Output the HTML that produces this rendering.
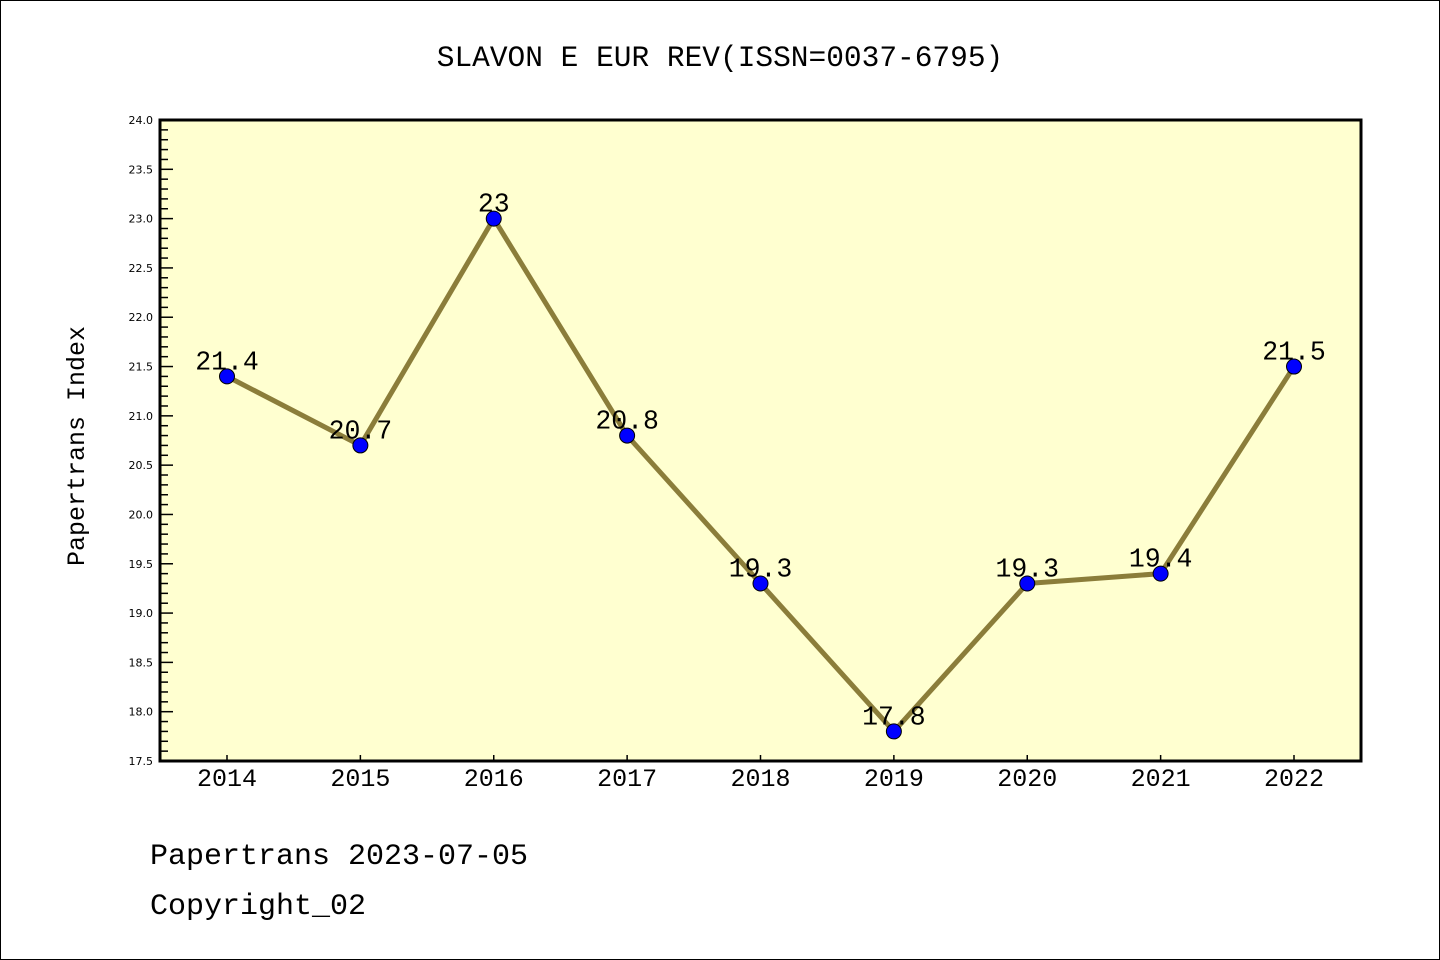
<!DOCTYPE html>
<html><head><meta charset="utf-8"><style>
body{margin:0;background:#fff;}
svg{display:block;font-family:"Liberation Mono","WenQuanYi Zen Hei",monospace;}
</style></head><body>
<svg id="chart" width="1440" height="960" viewBox="0 0 1440 960">
<rect x="0.5" y="0.5" width="1439" height="959" fill="#fff" stroke="#000"/>
<text x="720" y="66" font-size="29.5" text-anchor="middle">SLAVON E EUR REV(ISSN=0037-6795)</text>
<rect x="160" y="120" width="1201" height="641" fill="#ffffd0"/>
<g id="yticks"></g>
<g id="xticks"></g>
<g id="series"></g>
<rect x="160" y="120" width="1201" height="641" fill="none" stroke="#000" stroke-width="3"/>
<text x="84" y="446" font-size="25" text-anchor="middle" transform="rotate(-90 84 446)">Papertrans Index</text>
<text x="150" y="864" font-size="30">Papertrans 2023-07-05</text>
<text x="150" y="914" font-size="30">Copyright_02</text>
</svg>
<script>
const years=["2014","2015","2016","2017","2018","2019","2020","2021","2022"];
const values=[21.4,20.7,23,20.8,19.3,17.8,19.3,19.4,21.5];
const valueLabels=["21.4","20.7","23","20.8","19.3","17.8","19.3","19.4","21.5"];
const yTickLabels=["17.5","18.0","18.5","19.0","19.5","20.0","20.5","21.0","21.5","22.0","22.5","23.0","23.5","24.0"];
const yMin=17.5,yMax=24.0;
const NS="http://www.w3.org/2000/svg";
const X=i=>227+i*(1294-227)/(years.length-1);
const Y=v=>761-(v-yMin)/(yMax-yMin)*641;
function mk(t,a,p){const e=document.createElementNS(NS,t);for(const k in a)e.setAttribute(k,a[k]);p.appendChild(e);return e;}
const yg=document.getElementById('yticks');
for(let k=0;k<=65;k++){const v=yMin+k*0.1;const maj=k%5===0;
 const l=mk('line',{x1:160,x2:maj?173:168,y1:Y(v),y2:Y(v),stroke:'#000','stroke-width':1.5},yg);
 
 }
yTickLabels.forEach(s=>{const t=mk('text',{x:153,y:Y(parseFloat(s))+4,'font-size':11,'text-anchor':'end','font-family':'DejaVu Sans, sans-serif'},yg);t.textContent=s;
 
 });
const xg=document.getElementById('xticks');
years.forEach((y,i)=>{const l=mk('line',{x1:X(i),x2:X(i),y1:761,y2:755,stroke:'#000','stroke-width':1.5},xg);
 
 
 const t=mk('text',{x:X(i),y:786,'font-size':25,'text-anchor':'middle'},xg);t.textContent=y;
 
 });
const sg=document.getElementById('series');
const pl=mk('polyline',{points:values.map((v,i)=>X(i)+','+Y(v)).join(' '),fill:'none',stroke:'#8b7d3a','stroke-width':5,'stroke-linejoin':'round'},sg);


values.forEach((v,i)=>{const c=mk('circle',{cx:X(i),cy:Y(v),r:7.5,fill:'#0000ff',stroke:'#000','stroke-width':1},sg);
 
 
 const t=mk('text',{x:X(i),y:Y(v)-7,'font-size':26.5,'text-anchor':'middle'},sg);t.textContent=valueLabels[i];
 
 });
</script>
</body></html>
